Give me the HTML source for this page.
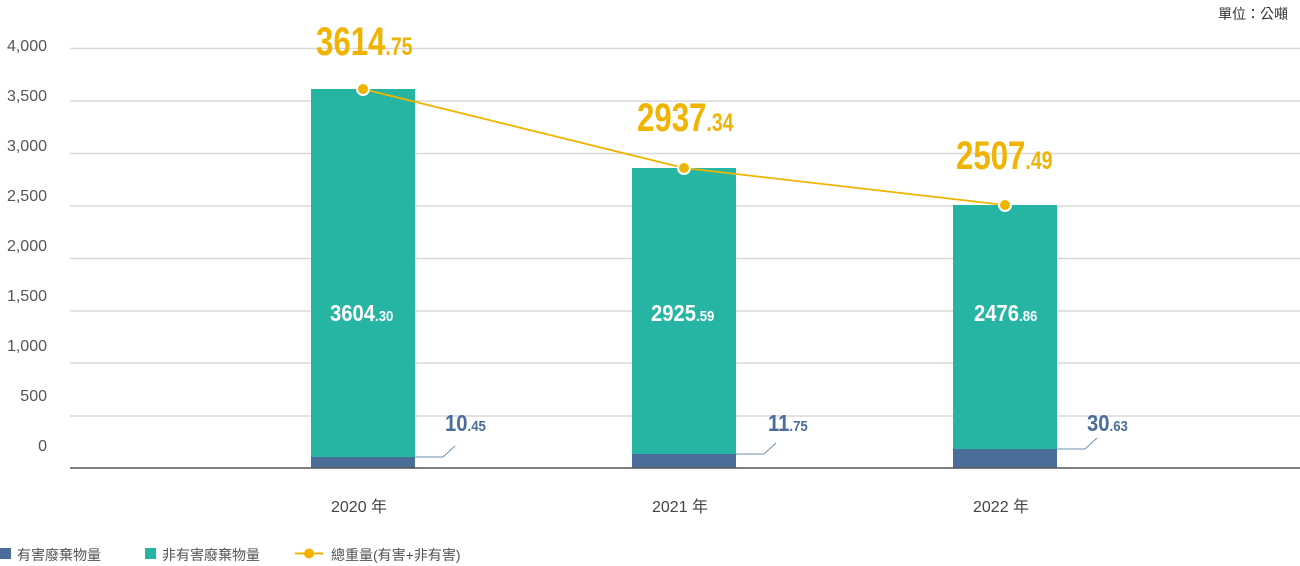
<!DOCTYPE html>
<html><head><meta charset="utf-8"><style>
body{margin:0;width:1300px;height:566px;background:#fff;overflow:hidden;position:relative;font-family:"Liberation Sans","Noto Sans CJK TC",sans-serif}
.t{position:absolute;white-space:nowrap}
.yl{position:absolute;right:1253px;font-size:16px;color:#555;line-height:16px}
.n{font-family:"Liberation Sans Narrow","Liberation Sans",sans-serif;font-weight:bold;transform-origin:0 0}
.big{transform:scaleX(0.78)}
.mid{transform:scaleX(0.88)}
</style></head><body>
<svg width="1300" height="566" style="position:absolute;left:0;top:0">
<g stroke="#d8d8d8" stroke-width="1.5">
<line x1="70" x2="1300" y1="48.5" y2="48.5"/><line x1="70" x2="1300" y1="101" y2="101"/>
<line x1="70" x2="1300" y1="153.5" y2="153.5"/><line x1="70" x2="1300" y1="206" y2="206"/>
<line x1="70" x2="1300" y1="258.5" y2="258.5"/><line x1="70" x2="1300" y1="311" y2="311"/>
<line x1="70" x2="1300" y1="363" y2="363"/><line x1="70" x2="1300" y1="416" y2="416"/>
</g>
<rect x="311" y="89" width="104" height="379" fill="#26b5a3"/>
<rect x="311" y="457" width="104" height="11" fill="#4a6d9a"/>
<rect x="632" y="168" width="104" height="300" fill="#26b5a3"/>
<rect x="632" y="454" width="104" height="14" fill="#4a6d9a"/>
<rect x="953" y="205" width="104" height="263" fill="#26b5a3"/>
<rect x="953" y="449" width="104" height="19" fill="#4a6d9a"/>
<line x1="70" x2="1300" y1="468" y2="468" stroke="#555" stroke-width="1.5"/>
<g stroke="#6f8fb5" stroke-width="1" fill="none">
<polyline points="415,457 443,457 455,446"/>
<polyline points="736,454 764,454 776,443"/>
<polyline points="1057,449 1085,449 1097,438"/>
</g>
<polyline points="363,89 684,168 1005,205" stroke="#f0b400" stroke-width="1.8" fill="none"/>
<g fill="#f0b400" stroke="#fff" stroke-width="2">
<circle cx="363" cy="89" r="6"/><circle cx="684" cy="168" r="6"/><circle cx="1005" cy="205" r="6"/>
</g>
<rect x="0" y="548" width="11" height="11" fill="#4a6d9a"/>
<rect x="145" y="548" width="11" height="11" fill="#26b5a3"/>
<line x1="295" x2="323" y1="553.5" y2="553.5" stroke="#f0b400" stroke-width="2"/>
<circle cx="309" cy="553.5" r="5" fill="#f0b400"/>
</svg>
<div class="yl" style="top:39px">4,000</div><div class="yl" style="top:89px">3,500</div>
<div class="yl" style="top:139px">3,000</div><div class="yl" style="top:189px">2,500</div>
<div class="yl" style="top:239px">2,000</div><div class="yl" style="top:289px">1,500</div>
<div class="yl" style="top:339px">1,000</div><div class="yl" style="top:389px">500</div>
<div class="yl" style="top:439px">0</div>
<div class="t" style="right:12px;top:4px;font-size:14px;color:#333">單位：公噸</div>
<div class="t n big" style="left:316px;top:22px;font-size:40px;color:#f0b400;line-height:40px">3614<span style="font-size:25px">.75</span></div>
<div class="t n big" style="left:637px;top:98px;font-size:40px;color:#f0b400;line-height:40px">2937<span style="font-size:25px">.34</span></div>
<div class="t n big" style="left:956px;top:136px;font-size:40px;color:#f0b400;line-height:40px">2507<span style="font-size:25px">.49</span></div>
<div class="t n mid" style="left:330px;top:300px;font-size:23px;color:#fff">3604<span style="font-size:15px">.30</span></div>
<div class="t n mid" style="left:651px;top:300px;font-size:23px;color:#fff">2925<span style="font-size:15px">.59</span></div>
<div class="t n mid" style="left:974px;top:300px;font-size:23px;color:#fff">2476<span style="font-size:15px">.86</span></div>
<div class="t n mid" style="left:445px;top:410px;font-size:23px;color:#4a6d9a">10<span style="font-size:15px">.45</span></div>
<div class="t n mid" style="left:768px;top:410px;font-size:23px;color:#4a6d9a">11<span style="font-size:15px">.75</span></div>
<div class="t n mid" style="left:1087px;top:410px;font-size:23px;color:#4a6d9a">30<span style="font-size:15px">.63</span></div>
<div class="t" style="left:331px;top:493px;font-size:16px;color:#444">2020 年</div>
<div class="t" style="left:652px;top:493px;font-size:16px;color:#444">2021 年</div>
<div class="t" style="left:973px;top:493px;font-size:16px;color:#444">2022 年</div>
<div class="t" style="left:17px;top:545px;font-size:14px;color:#555">有害廢棄物量</div>
<div class="t" style="left:162px;top:545px;font-size:14px;color:#555">非有害廢棄物量</div>
<div class="t" style="left:331px;top:545px;font-size:14px;color:#555">總重量(有害+非有害)</div>
</body></html>
